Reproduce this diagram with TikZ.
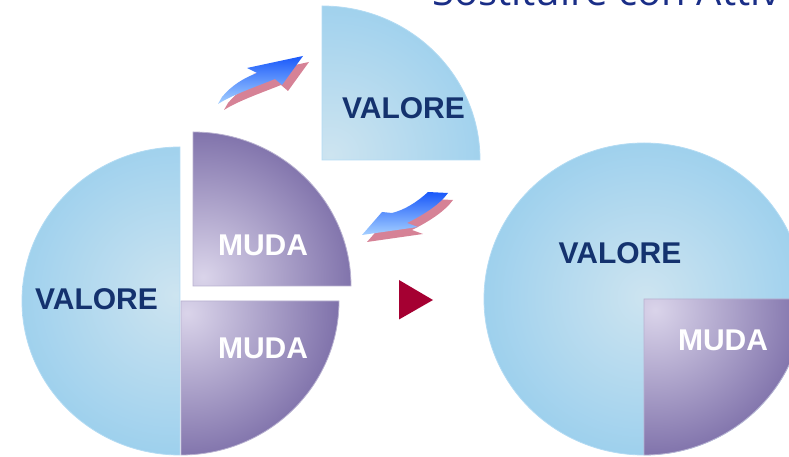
\documentclass[tikz,border=0pt]{standalone}
\usepackage{fontspec}
\setmainfont{Liberation Sans}
\newfontfamily\titlefont{Open Sans}
\usepackage{tikz}

\definecolor{valin}{RGB}{205,228,240}
\definecolor{valout}{RGB}{138,200,236}
\definecolor{mudain}{RGB}{218,212,234}
\definecolor{mudaout}{RGB}{98,82,150}
\definecolor{labblue}{RGB}{20,50,110}
\definecolor{titleblue}{RGB}{26,46,135}
\definecolor{arrdark}{RGB}{25,88,250}
\definecolor{arrlight}{RGB}{165,208,255}
\definecolor{arrpink}{RGB}{214,130,150}
\definecolor{playred}{RGB}{165,0,50}

\begin{document}
\begin{tikzpicture}[x=1pt,y=1pt]
  \useasboundingbox (0,0) rectangle (789,457);
  \clip (0,0) rectangle (789,457);
  \tikzstyle{valore}=[draw=white!35!valout,line width=0.8pt,
    path picture={\shade[inner color=valin,outer color=valout] #1 ellipse [x radius=230,y radius=224];}]
  \tikzstyle{muda}=[draw=white!55!mudaout,line width=0.8pt,
    path picture={\shade[inner color=mudain,outer color=mudaout] #1 ellipse [x radius=200,y radius=195];}]
  \tikzstyle{lab}=[inner sep=0pt,font=\fontsize{30}{36}\selectfont\bfseries]

%% left pie, with one slice pulled out
  \path[valore={(176,162)}] (180,310) arc [start angle=90,end angle=270,x radius=158,y radius=154] -- cycle;
  \path[muda={(187,144)}] (181,156) -- (181,2) arc [start angle=270,end angle=360,x radius=158,y radius=154] -- cycle;
  \path[muda={(203,180)}] (193,171) -- (351,171) arc [start angle=0,end angle=90,x radius=158,y radius=154] -- cycle;

%% slice of value that goes in
  \path[valore={(330,302)}] (322,297) -- (480,297) arc [start angle=0,end angle=90,x radius=158,y radius=154] -- cycle;

%% right pie
  \path[valore={(646,160)}] (644,158) ellipse [x radius=160,y radius=156];
  \path[muda={(655,147)}] (644,158) -- (644,2) arc [start angle=270,end angle=360,x radius=160,y radius=156] -- cycle;

%% curved arrows (shadow first)
  \newcommand{\uparr}{(218,353) -- (222,360) .. controls (232,372) and (244,379) .. (257,384) -- (247,389)
    -- (303,401) -- (282,372) -- (275,378) .. controls (255,370) and (232,362) .. cycle}
  \newcommand{\downarr}{(428,265) .. controls (416,254) and (404,247) .. (392,244) -- (382,245) -- (362,222)
    -- (418,230) -- (407,234) .. controls (425,243) and (440,253) .. (448,264) -- cycle}
  \fill[arrpink,shift={(6,-6)}] \uparr;
  \shade[top color=arrdark,bottom color=arrlight] \uparr;
  \fill[arrpink,shift={(5,-7)}] \downarr;
  \shade[top color=arrdark,bottom color=arrlight] \downarr;

%% play mark
  \fill[playred] (399,177) -- (399,137.5) -- (433,157) -- cycle;

%% labels
  \node[lab,text=labblue] (valore-left)  at (96.5,158) {VALORE};
  \node[lab,text=white]   (muda-top)     at (263,212)  {MUDA};
  \node[lab,text=white]   (muda-bottom)  at (263,109)  {MUDA};
  \node[lab,text=labblue] (valore-top)   at (403.5,349) {VALORE};
  \node[lab,text=labblue] (valore-right) at (620,204)  {VALORE};
  \node[lab,text=white]   (muda-right)   at (723,117)  {MUDA};
  \node[inner sep=0pt,anchor=base west,text=titleblue,font=\titlefont\fontsize{40}{48}\selectfont]
    (title) at (432,451) {Sostituire con Attiv};
\end{tikzpicture}
\end{document}
